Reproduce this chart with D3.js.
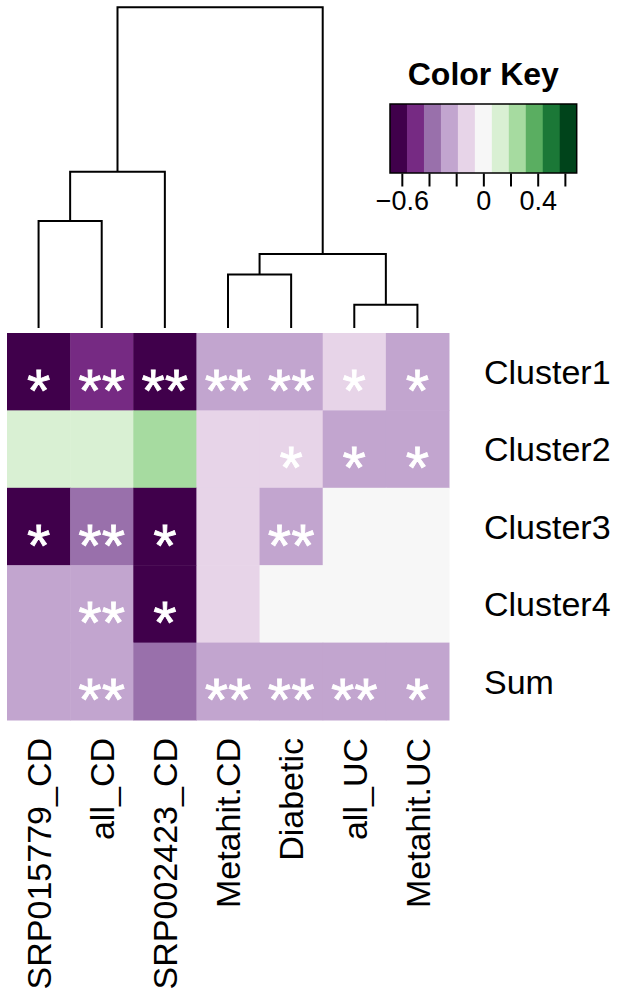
<!DOCTYPE html>
<html>
<head>
<meta charset="utf-8">
<script src="https://cdn.jsdelivr.net/npm/d3@7"></script>
<style>
  html, body { margin: 0; padding: 0; background: #fff; }
  svg { display: block; font-family: "Liberation Sans", Arial, Helvetica, sans-serif; }
</style>
</head>
<body>
<svg id="chart" width="622" height="1002"></svg>
<script>
// ---------- data ----------
const columns = ["SRP015779_CD", "all_CD", "SRP002423_CD", "Metahit.CD", "Diabetic", "all_UC", "Metahit.UC"];
const rows = ["Cluster1", "Cluster2", "Cluster3", "Cluster4", "Sum"];

const valCluster1 = [-0.63, -0.51, -0.66, -0.24, -0.26, -0.15, -0.23];
const valCluster2 = [0.11, 0.10, 0.24, -0.13, -0.11, -0.22, -0.25];
const valCluster3 = [-0.62, -0.35, -0.64, -0.12, -0.27, 0.02, -0.01];
const valCluster4 = [-0.27, -0.25, -0.61, -0.14, 0.01, -0.03, 0.03];
const valSum      = [-0.22, -0.24, -0.38, -0.26, -0.25, -0.21, -0.22];

const sigCluster1 = ["*", "**", "**", "**", "**", "*", "*"];
const sigCluster2 = ["", "", "", "", "*", "*", "*"];
const sigCluster3 = ["*", "**", "*", "", "**", "", ""];
const sigCluster4 = ["", "**", "*", "", "", "", ""];
const sigSum      = ["", "**", "", "**", "**", "**", "*"];

// column dendrogram (merge heights)
const colTree = {
  height: 2.80, children: [
    { height: 1.364, children: [
      { height: 0.935, children: [{ name: "SRP015779_CD" }, { name: "all_CD" }] },
      { name: "SRP002423_CD" }
    ]},
    { height: 0.647, children: [
      { height: 0.468, children: [{ name: "Metahit.CD" }, { name: "Diabetic" }] },
      { height: 0.202, children: [{ name: "all_UC" }, { name: "Metahit.UC" }] }
    ]}
  ]
};

const keyMax = 0.687;
const keyTicks = [-0.6, -0.4, -0.2, 0, 0.2, 0.4, 0.6];
const keyTickLabels = ["−0.6", "", "", "0", "", "0.4", ""];

// ---------- build ----------
const values = [valCluster1, valCluster2, valCluster3, valCluster4, valSum];
const sigs = [sigCluster1, sigCluster2, sigCluster3, sigCluster4, sigSum];
const cells = [];
rows.forEach((r, i) => columns.forEach((c, j) => cells.push({ row: r, col: c, v: values[i][j], s: sigs[i][j] })));

const svg = d3.select("#chart");

const x = d3.scaleBand().domain(columns).range([7, 449]).padding(0);
const y = d3.scaleBand().domain(rows).range([333, 720]).padding(0);
const color = d3.scaleQuantize().domain([-keyMax, keyMax]).range(d3.schemePRGn[11]);

// heatmap cells
svg.append("g").selectAll("rect").data(cells).join("rect")
  .attr("x", d => x(d.col))
  .attr("y", d => y(d.row))
  .attr("width", x.bandwidth() + 0.5)
  .attr("height", y.bandwidth() + 0.5)
  .attr("fill", d => color(d.v));

// significance stars
svg.append("g").selectAll("text").data(cells.filter(d => d.s)).join("text")
  .attr("x", d => x(d.col) + x.bandwidth() / 2)
  .attr("y", d => y(d.row) + y.bandwidth() / 2 + 39)
  .attr("text-anchor", "middle")
  .attr("fill", "#fff")
  .attr("stroke", "#fff")
  .attr("stroke-width", 0.8)
  .attr("font-size", 60)
  .text(d => d.s);

// row labels
svg.append("g").selectAll("text").data(rows).join("text")
  .attr("x", 484)
  .attr("y", d => y(d) + y.bandwidth() / 2)
  .attr("dy", "0.36em")
  .attr("font-size", 34)
  .attr("fill", "#000")
  .text(d => d);

// column labels
svg.append("g").selectAll("text").data(columns).join("text")
  .attr("transform", d => `translate(${x(d) + x.bandwidth() / 2},738) rotate(-90)`)
  .attr("dy", "0.36em")
  .attr("text-anchor", "end")
  .attr("font-size", 34)
  .attr("fill", "#000")
  .text(d => d);

// dendrogram
const root = d3.hierarchy(colTree);
const yd = d3.scaleLinear().domain([0, colTree.height]).range([328, 7.3]);
root.eachAfter(n => {
  if (!n.children) { n.px = x(n.data.name) + x.bandwidth() / 2; n.py = yd(0); }
  else { n.px = d3.mean(n.children, c => c.px); n.py = yd(n.data.height); }
});
const dend = svg.append("g").attr("fill", "none").attr("stroke", "#000").attr("stroke-width", 2);
root.descendants().filter(n => n.children).forEach(n => {
  const [a, b] = n.children;
  dend.append("path").attr("d",
    `M${a.px},${a.py}V${n.py}H${b.px}V${b.py}`);
});

// color key
const kx = d3.scaleLinear().domain([-keyMax, keyMax]).range([390, 576.7]);
const key = svg.append("g");
const bins = color.range().map(c => color.invertExtent(c));
key.selectAll("rect.bin").data(bins).join("rect")
  .attr("class", "bin")
  .attr("x", d => kx(d[0]))
  .attr("y", 104)
  .attr("width", d => kx(d[1]) - kx(d[0]) + 0.3)
  .attr("height", 69)
  .attr("fill", d => color((d[0] + d[1]) / 2));
key.append("rect")
  .attr("x", kx(-keyMax)).attr("y", 104)
  .attr("width", kx(keyMax) - kx(-keyMax)).attr("height", 69)
  .attr("fill", "none").attr("stroke", "#000").attr("stroke-width", 1.5);

const axis = d3.axisBottom(kx).tickValues(keyTicks).tickSize(13)
  .tickFormat((d, i) => keyTickLabels[i]);
const ax = key.append("g").attr("transform", "translate(0,173.5)").call(axis);
ax.select(".domain").remove();
ax.selectAll(".tick line").attr("stroke", "#000").attr("stroke-width", 2);
ax.selectAll(".tick text").attr("font-size", 27).attr("fill", "#000")
  .attr("y", 17).attr("dy", "0.71em")
  .attr("font-family", "'Liberation Sans', Arial, sans-serif");

key.append("text")
  .attr("x", 483.3).attr("y", 85)
  .attr("text-anchor", "middle")
  .attr("font-weight", "bold")
  .attr("font-size", 32)
  .attr("fill", "#000")
  .text("Color Key");
</script>
</body>
</html>
